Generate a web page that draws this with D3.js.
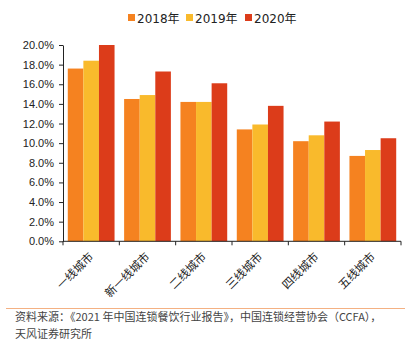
<!DOCTYPE html>
<html>
<head>
<meta charset="utf-8">
<script src="https://cdn.jsdelivr.net/npm/d3@7"></script>
<style>
  html, body { margin: 0; padding: 0; background: #fff; }
  svg { display: block; font-family: "DejaVu Sans", "Noto Sans CJK SC", sans-serif; }
</style>
</head>
<body>
<svg id="chart" width="420" height="340"></svg>
<script>
// Restaurant chain share by city tier, 2018–2020 (%)
const categories = ["一线城市", "新一线城市", "二线城市", "三线城市", "四线城市", "五线城市"];
const seriesNames = ["2018年", "2019年", "2020年"];
const values2018 = [17.6, 14.5, 14.2, 11.4, 10.2, 8.7];
const values2019 = [18.4, 14.9, 14.2, 11.9, 10.8, 9.3];
const values2020 = [20.0, 17.3, 16.1, 13.8, 12.2, 10.5];
const yTicks = [0, 2, 4, 6, 8, 10, 12, 14, 16, 18, 20];
const colors = ["#F58220", "#F9BA2C", "#DC3C1A"];
const sourceLines = [
  "资料来源：《2021 年中国连锁餐饮行业报告》，中国连锁经营协会（CCFA），",
  "天风证券研究所"
];

const series = [values2018, values2019, values2020];
const svg = d3.select("#chart");
const margin = { left: 63, right: 19, top: 45, bottom: 99 };
const W = 420, H = 340;
const plotBottom = H - margin.bottom + 0.3;

const x0 = d3.scaleBand().domain(categories).range([margin.left, W - margin.right]).paddingInner(0.17).paddingOuter(0.085);
const x1 = d3.scaleBand().domain(seriesNames).range([0, x0.bandwidth()]);
const y = d3.scaleLinear().domain([0, 20]).range([plotBottom, margin.top]);

// bars
const groups = svg.append("g").selectAll("g").data(categories).join("g")
  .attr("transform", c => `translate(${x0(c)},0)`);
groups.selectAll("rect")
  .data((c, i) => seriesNames.map((s, j) => ({ s, j, v: series[j][i] })))
  .join("rect")
  .attr("x", d => x1(d.s))
  .attr("width", x1.bandwidth())
  .attr("y", d => y(d.v))
  .attr("height", d => y(0) - y(d.v))
  .attr("fill", d => colors[d.j]);

// y axis
const yAxis = svg.append("g").attr("transform", `translate(${margin.left},0)`)
  .call(d3.axisLeft(y).tickValues(yTicks).tickFormat(d => d.toFixed(1) + "%").tickSize(4).tickSizeOuter(0));
yAxis.select(".domain").attr("stroke", "#222");
yAxis.selectAll(".tick line").attr("stroke", "#222");
yAxis.selectAll("text").attr("fill", "#222").attr("font-size", 11).attr("x", -9);

// x axis with boundary ticks between categories
const xAxisG = svg.append("g").attr("transform", `translate(0,${plotBottom})`);
xAxisG.append("line").attr("x1", margin.left).attr("x2", W - margin.right)
  .attr("stroke", "#222");
const boundaries = d3.range(categories.length + 1).map(i => margin.left + i * (W - margin.right - margin.left) / categories.length);
xAxisG.selectAll("line.tk").data(boundaries).join("line").attr("class", "tk")
  .attr("x1", d => d).attr("x2", d => d).attr("y1", 0).attr("y2", 4).attr("stroke", "#222");
xAxisG.selectAll("text").data(categories).join("text")
  .attr("transform", c => `translate(${x0(c) + x0.bandwidth() / 2 + 3},${16}) rotate(-45)`)
  .attr("text-anchor", "end")
  .attr("font-size", 11.5)
  .attr("fill", "#222")
  .attr("font-family", "Noto Sans CJK SC")
  .text(c => c);

// legend
const legendX = [128, 186, 245];
const legend = svg.append("g").selectAll("g").data(seriesNames).join("g")
  .attr("transform", (d, i) => `translate(${legendX[i]},18)`);
legend.append("rect").attr("x", 0).attr("y", -4).attr("width", 7).attr("height", 7)
  .attr("fill", (d, i) => colors[i]);
legend.append("text").attr("x", 9).attr("y", 4.5).attr("font-size", 12).attr("fill", "#222")
  .text(d => d);

// source note
svg.append("line").attr("x1", 6).attr("x2", 405).attr("y1", 308.5).attr("y2", 308.5)
  .attr("stroke", "#F4B183").attr("stroke-width", 1);
svg.append("g").selectAll("text").data(sourceLines).join("text")
  .attr("x", 15).attr("y", (d, i) => 321 + i * 16.5)
  .attr("font-size", 11).attr("fill", "#444").attr("font-family", "Noto Sans CJK SC")
  .text(d => d);
</script>
</body>
</html>
